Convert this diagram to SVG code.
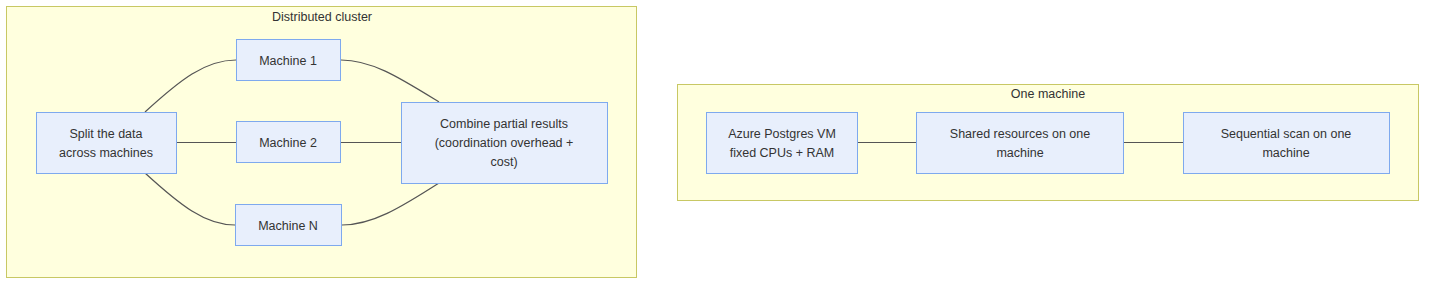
<svg xmlns="http://www.w3.org/2000/svg" width="1440" height="290" viewBox="0 0 1440 290">
<style>
.cluster{fill:#ffffde;stroke:#c8c864;stroke-width:1}
.node{fill:#e8effc;stroke:#7ea9ee;stroke-width:1}
.t{font-family:"Liberation Sans",Arial,sans-serif;font-size:12.5px;fill:#333;text-anchor:middle}
.edge{fill:none;stroke:#555;stroke-width:1.2}
</style>
<rect width="1440" height="290" fill="#ffffff"/>
<g id="cluster-distributed">
<rect class="cluster" x="6.5" y="6.5" width="630" height="271"/>
<text class="t" x="322" y="21">Distributed cluster</text>
</g>
<g id="cluster-one">
<rect class="cluster" x="677.5" y="84.5" width="741" height="116"/>
<text class="t" x="1048" y="98">One machine</text>
</g>
<g id="connectors">
<path class="edge" d="M145,112 C180,80 205,60 236,60"/>
<path class="edge" d="M176,142.5 L236,142.5"/>
<path class="edge" d="M145,173 C180,205 205,225 235,225"/>
<path class="edge" d="M341,60 C372,60 400,78 439,102"/>
<path class="edge" d="M341,142.5 L401,142.5"/>
<path class="edge" d="M342,225 C372,225 400,208 439,183"/>
<path class="edge" d="M857,142.5 L916,142.5"/>
<path class="edge" d="M1123,142.5 L1183,142.5"/>
</g>
<g id="split">
<rect class="node" x="36.5" y="112.5" width="140" height="61"/>
<text class="t" x="106" y="138">Split the data</text>
<text class="t" x="106" y="157">across machines</text>
</g>
<g id="m1">
<rect class="node" x="236.5" y="39.5" width="104" height="41"/>
<text class="t" x="288" y="64.5">Machine 1</text>
</g>
<g id="m2">
<rect class="node" x="236.5" y="121.5" width="104" height="41"/>
<text class="t" x="288" y="146.5">Machine 2</text>
</g>
<g id="mn">
<rect class="node" x="235.5" y="204.5" width="106" height="41"/>
<text class="t" x="288" y="229.5">Machine N</text>
</g>
<g id="combine">
<rect class="node" x="401.5" y="102.5" width="206" height="81"/>
<text class="t" x="504" y="128">Combine partial results</text>
<text class="t" x="504" y="147">(coordination overhead +</text>
<text class="t" x="504" y="166">cost)</text>
</g>
<g id="azure">
<rect class="node" x="706.5" y="112.5" width="151" height="61"/>
<text class="t" x="782" y="138">Azure Postgres VM</text>
<text class="t" x="782" y="157">fixed CPUs + RAM</text>
</g>
<g id="shared">
<rect class="node" x="916.5" y="112.5" width="207" height="61"/>
<text class="t" x="1020" y="138">Shared resources on one</text>
<text class="t" x="1020" y="157">machine</text>
</g>
<g id="seq">
<rect class="node" x="1183.5" y="112.5" width="206" height="61"/>
<text class="t" x="1286" y="138">Sequential scan on one</text>
<text class="t" x="1286" y="157">machine</text>
</g>
</svg>
